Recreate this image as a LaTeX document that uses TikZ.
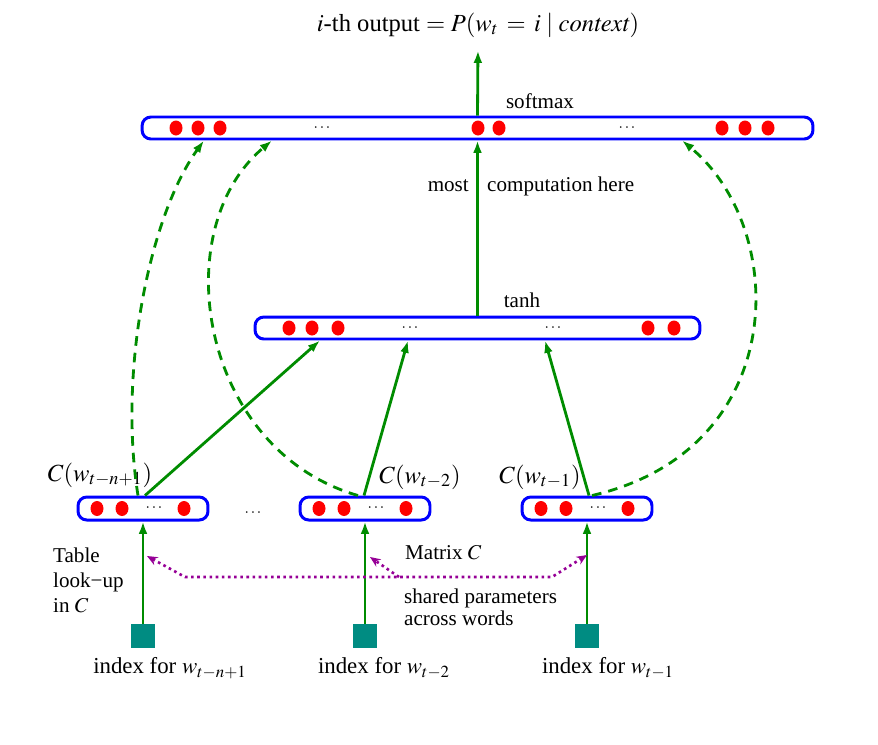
\documentclass[tikz,border=0pt]{standalone}
\usepackage{mathptmx}
\usepackage{fontspec}
\setmainfont{Liberation Serif}
\usepackage{tikz}
\usetikzlibrary{arrows.meta, positioning, calc, shapes.geometric}
\colorlet{colNet}{green!55!black}
\definecolor{colBar}{RGB}{0,0,255}
\definecolor{colIdx}{RGB}{0,140,130}
\definecolor{colShare}{RGB}{150,0,150}

\begin{document}
\begin{tikzpicture}[x=0.02cm, y=-0.02cm,
    vecbar/.style={draw=colBar, line width=1.7pt, rounded corners=5pt, fill=white, inner sep=0pt},
    neuron/.style={ellipse, fill=red, inner sep=0pt, minimum width=0.26cm, minimum height=0.3cm},
    feed/.style={draw=colNet, line width=1.6pt, -{Latex[length=7pt,width=5pt]}},
    back/.style={feed, dash pattern=on 5.5pt off 4pt},
    shared/.style={draw=colShare, line width=1.5pt, dash pattern=on 1.5pt off 2pt},
    idx/.style={fill=colIdx, minimum size=0.48cm, inner sep=0pt},
    lbl/.style={font=\fontsize{12}{14}\selectfont},
    big/.style={font=\fontsize{14}{16}\selectfont},
    skip/.style={font=\small, inner sep=0pt}]
  \useasboundingbox (0,0) rectangle (878,744);

  % layers
  \node[vecbar, minimum width=13.42cm, minimum height=0.44cm] (S) at (477.5,128) {};
  \node[vecbar, minimum width=8.9cm, minimum height=0.44cm] (H) at (477.5,328) {};
  \foreach \cx [count=\k] in {143,365,587}
    \node[vecbar, minimum width=2.6cm, minimum height=0.46cm] (C\k) at (\cx,508.5) {};

  % units
  \foreach \x [count=\k] in {176,198,220,478,499,722,745,768}
    \node[neuron] (s\k) at (\x,128) {};
  \foreach \x [count=\k] in {289,312,338,648,674}
    \node[neuron] (h\k) at (\x,328) {};
  \foreach \cx [count=\k] in {143,365,587} {
    \node[neuron] (c\k a) at (\cx-46,508.5) {};
    \node[neuron] (c\k b) at (\cx-21,508.5) {};
    \node[skip] (c\k d) at (\cx+11,508.5) {$\cdots$};
    \node[neuron] (c\k c) at (\cx+41,508.5) {};
  }
  \node[skip] (sd1) at (322,128) {$\cdots$};
  \node[skip] (sd2) at (627,128) {$\cdots$};
  \node[skip] (hd1) at (410,328) {$\cdots$};
  \node[skip] (hd2) at (553,328) {$\cdots$};
  \node[skip] (gap) at (253,513) {$\cdots$};

  % word indices
  \foreach \cx [count=\k] in {143,365,587}
    \node[idx] (I\k) at (\cx,636) {};

  % texts
  \node[big] (title) at (478,25) {$i$-th output $= P(w_t \,=\, i \mid \mathit{context})$};
  \node[lbl] (softlbl) at (540,101) {softmax};
  \node[lbl] (tanhlbl) at (522,300) {tanh};
  \node[lbl, anchor=east] (most) at (475,186) {most};
  \node[lbl, anchor=west] (comp) at (481,186) {computation here};
  \node[big] (c1lbl) at (100,475) {$C(w_{t-n+1})$};
  \node[big] (c2lbl) at (420,477) {$C(w_{t-2})$};
  \node[big] (c3lbl) at (540,477) {$C(w_{t-1})$};
  \node[lbl, align=left, anchor=north west] (lookup) at (47,542) {Table\\look−up\\in $C$};
  \node[lbl, anchor=west] (matlbl) at (399,553) {Matrix $C$};
  \node[lbl, align=left, anchor=north west, font=\fontsize{12}{12.5}\selectfont] (sharedlbl) at (398,583) {shared parameters\\across words};
  \node[font=\fontsize{13}{15}\selectfont] (n1) at (170,668) {index for $w_{t-n+1}$};
  \node[font=\fontsize{13}{15}\selectfont] (n2) at (384,668) {index for $w_{t-2}$};
  \node[font=\fontsize{13}{15}\selectfont] (n3) at (608,668) {index for $w_{t-1}$};

  % look-up
  \foreach \k in {1,2,3}
    \draw[feed] (I\k) -- (C\k);

  % hidden layer
  \draw[feed] (C1.north -| 145,0) -- (H.south -| 320,0);
  \draw[feed] (C2.north -| 364,0) -- (H.south -| 408,0);
  \draw[feed] (C3.north -| 589,0) -- (H.south -| 545,0);
  \draw[feed] (H.north) -- (S.south);
  \draw[feed, shorten >=4pt] (S.north) -- (title.south);

  % direct connections
  \draw[back] (C1.north -| 138,0) .. controls (118,370) and (150,215) .. (S.south -| 204,0);
  \draw[back] (C2.north -| 358,0) .. controls (200,450) and (165,230) .. (S.south -| 272,0);
  \draw[back] (C3.north -| 592,0) .. controls (790,450) and (790,230) .. (S.south -| 682,0);

  % shared matrix
  \coordinate (shL) at (147,556);
  \coordinate (shM) at (370,557);
  \coordinate (shR) at (587,555);
  \coordinate (shA) at (185,577);
  \coordinate (shB) at (552,577);
  \coordinate (shC) at (399,577);
  \draw[shared, {Stealth[length=6pt,width=5pt]}-{Stealth[length=6pt,width=5pt]}] (shL) -- (shA) -- (shB) -- (shR);
  \draw[shared, -{Stealth[length=6pt,width=5pt]}] (shC) -- (shM);
\end{tikzpicture}
\end{document}
